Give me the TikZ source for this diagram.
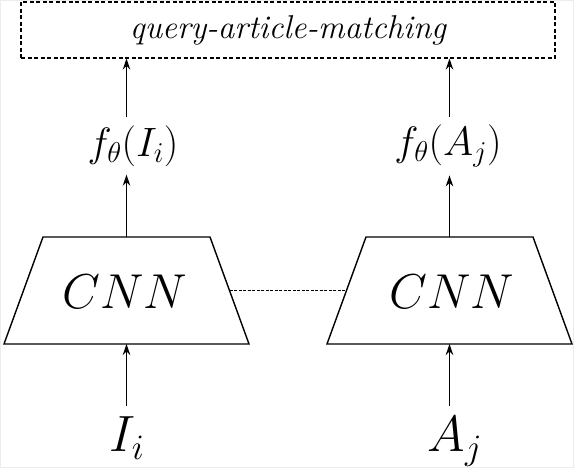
\RequirePackage{fix-cm}
\documentclass[tikz,border=0pt]{standalone}
\usetikzlibrary{arrows.meta}
\begin{document}
\begin{tikzpicture}[x=1pt,y=1pt,
  conn/.style={line width=1.4pt,-{Stealth[length=11pt,width=7.5pt]}},
  cnnshape/.style={line width=1.4pt,line join=miter},
  cnntext/.style={inner sep=0pt,font=\fontsize{49}{54}\selectfont},
  midlab/.style={inner xsep=0pt,inner ysep=8pt,font=\fontsize{41}{44}\selectfont},
  botlab/.style={anchor=base,inner sep=11pt,font=\fontsize{51}{56}\selectfont},
  qboxst/.style={draw,line width=1.1pt,dash pattern=on 4pt off 2.5pt,minimum width=534pt,minimum height=56pt,inner sep=0pt,font=\fontsize{33}{36}\selectfont\itshape},
  sharelink/.style={line width=1pt,dash pattern=on 3pt off 1.5pt}
]
\useasboundingbox (0,0) rectangle (574,468);
\draw[gray!15,line width=1pt] (0.5,0.5) rectangle (573.5,467.5);

% query box
\node[qboxst] (qbox) at (288,438) {query-article-matching};

% left CNN trapezoid
\draw[cnnshape] (4,124) -- (249,124) -- (210,231) -- (43,231) -- cycle;
\coordinate (cnnLt) at (126.5,231);
\coordinate (cnnLb) at (126.5,124);
\coordinate (cnnLr) at (229.5,177.5);
\node[cnntext] (cnnL) at (125,176) {$CNN$};

% right CNN trapezoid
\draw[cnnshape] (327,124) -- (572,124) -- (533,231) -- (366,231) -- cycle;
\coordinate (cnnRt) at (449.5,231);
\coordinate (cnnRb) at (449.5,124);
\coordinate (cnnRl) at (346.5,177.5);
\node[cnntext] (cnnR) at (452,176) {$CNN$};

% shared weights link
\draw[sharelink] (cnnLr) -- (cnnRl);

% middle labels
\node[midlab] (labL) at (133,322) {$f_\theta(I_i)$};
\node[midlab] (labR) at (448,322) {$f_\theta(A_j)$};

% bottom labels
\node[botlab] (inL) at (127,16) {$I_i$};
\node[botlab] (inR) at (455,16) {$A_j$};

% arrows
\draw[conn] (cnnLb |- inL.north) -- (cnnLb);
\draw[conn] (cnnRb |- inR.north) -- (cnnRb);
\draw[conn] (cnnLt) -- (cnnLt |- labL.south);
\draw[conn] (cnnRt) -- (cnnRt |- labR.south);
\draw[conn] (cnnLt |- labL.north) -- (cnnLt |- qbox.south);
\draw[conn] (cnnRt |- labR.north) -- (cnnRt |- qbox.south);
\end{tikzpicture}
\end{document}
